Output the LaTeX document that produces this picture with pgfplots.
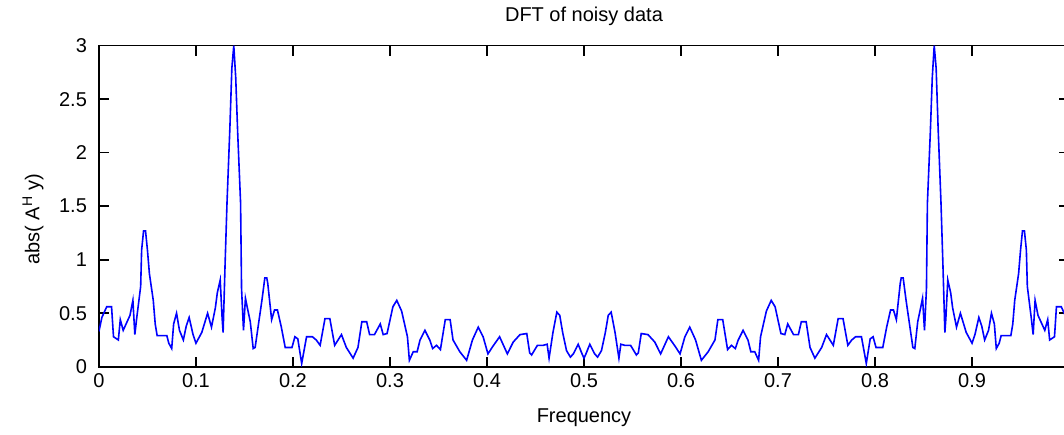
\documentclass[border=0pt]{standalone}
\usepackage{fontspec}
\setmainfont{Liberation Sans}
\usepackage{pgfplots}
\pgfplotsset{compat=1.18}
\begin{document}
\begin{tikzpicture}
\begin{axis}[
  scale only axis, width=485pt, height=160.5pt,
  xmin=0, xmax=1, ymin=0, ymax=3,
  xtick={0,0.1,0.2,0.3,0.4,0.5,0.6,0.7,0.8,0.9},
  ytick={0,0.5,1,1.5,2,2.5,3},
  tick align=inside, major tick length=5pt,
  axis line style={line width=0.8pt},
  every tick/.style={black, line width=0.8pt},
  font=\fontsize{10}{12}\selectfont,
  /pgf/number format/assume math mode=true,
  yticklabel style={xshift=-2.5pt},
  title={DFT of noisy data},
  title style={anchor=base, at={(axis description cs:0.5,1)}, yshift=6.3pt},
  xlabel={Frequency},
  xlabel style={anchor=base, at={(axis description cs:0.5,0)}, yshift=-27.7pt},
  ylabel={abs( A$^{\mathrm{H}}$ y)},
  ylabel style={at={(axis description cs:-0.068,0.46)}, anchor=center},
]
\addplot[blue, line width=0.8pt, mark=none] coordinates {
(0.000,0.33) (0.003,0.46) (0.008,0.56) (0.013,0.56) (0.015,0.28) (0.020,0.25)
(0.022,0.44) (0.025,0.34) (0.029,0.42) (0.032,0.48) (0.035,0.62) (0.037,0.30)
(0.039,0.46) (0.043,0.75) (0.044,1.09) (0.046,1.27) (0.048,1.27) (0.049,1.18)
(0.050,1.09) (0.052,0.87) (0.056,0.62) (0.058,0.40) (0.060,0.29) (0.070,0.29)
(0.072,0.22) (0.075,0.17) (0.077,0.40) (0.080,0.50) (0.083,0.34) (0.087,0.25)
(0.090,0.38) (0.093,0.46) (0.097,0.30) (0.100,0.22) (0.106,0.32) (0.112,0.50)
(0.116,0.37) (0.120,0.55) (0.122,0.69) (0.125,0.81) (0.127,0.45) (0.128,0.32)
(0.130,0.95) (0.132,1.53) (0.135,2.24) (0.137,2.79) (0.139,3.00) (0.141,2.70)
(0.143,2.19) (0.146,1.53) (0.147,0.73) (0.149,0.34) (0.151,0.64) (0.153,0.55)
(0.156,0.42) (0.159,0.17) (0.161,0.18) (0.164,0.37) (0.168,0.62) (0.171,0.83)
(0.173,0.83) (0.174,0.78) (0.178,0.44) (0.181,0.53) (0.184,0.53) (0.188,0.37)
(0.192,0.18) (0.199,0.18) (0.202,0.28) (0.205,0.26) (0.209,0.03) (0.214,0.28)
(0.220,0.28) (0.224,0.25) (0.228,0.20) (0.233,0.45) (0.238,0.45) (0.243,0.20)
(0.250,0.30) (0.255,0.18) (0.262,0.08) (0.267,0.18) (0.271,0.42) (0.276,0.42)
(0.279,0.30) (0.284,0.30) (0.290,0.40) (0.293,0.30) (0.297,0.31) (0.303,0.56)
(0.307,0.62) (0.312,0.52) (0.318,0.28) (0.320,0.06) (0.324,0.14) (0.328,0.14)
(0.331,0.25) (0.336,0.34) (0.341,0.25) (0.344,0.17) (0.348,0.20) (0.352,0.16)
(0.357,0.44) (0.362,0.44) (0.365,0.25) (0.372,0.14) (0.379,0.06) (0.385,0.25)
(0.391,0.37) (0.396,0.28) (0.401,0.12) (0.406,0.19) (0.413,0.28) (0.421,0.12)
(0.427,0.23) (0.434,0.30) (0.441,0.31) (0.444,0.13) (0.446,0.11) (0.452,0.20)
(0.458,0.20) (0.462,0.21) (0.464,0.08) (0.468,0.32) (0.472,0.51) (0.475,0.48)
(0.478,0.32) (0.482,0.15) (0.486,0.09) (0.489,0.12) (0.494,0.21) (0.498,0.12)
(0.500,0.08)
(0.502,0.12) (0.506,0.21) (0.511,0.12) (0.514,0.09) (0.518,0.15) (0.522,0.32)
(0.525,0.48) (0.528,0.51) (0.532,0.32) (0.536,0.08) (0.538,0.21) (0.542,0.20)
(0.548,0.20) (0.554,0.11) (0.556,0.13) (0.559,0.31) (0.566,0.30) (0.573,0.23)
(0.579,0.12) (0.587,0.28) (0.594,0.19) (0.599,0.12) (0.604,0.28) (0.609,0.37)
(0.615,0.25) (0.621,0.06) (0.628,0.14) (0.635,0.25) (0.638,0.44) (0.643,0.44)
(0.648,0.16) (0.652,0.20) (0.656,0.17) (0.659,0.25) (0.664,0.34) (0.669,0.25)
(0.672,0.14) (0.676,0.14) (0.680,0.06) (0.682,0.28) (0.688,0.52) (0.693,0.62)
(0.697,0.56) (0.703,0.31) (0.707,0.30) (0.710,0.40) (0.716,0.30) (0.721,0.30)
(0.724,0.42) (0.729,0.42) (0.733,0.18) (0.738,0.08) (0.745,0.18) (0.750,0.30)
(0.757,0.20) (0.762,0.45) (0.767,0.45) (0.772,0.20) (0.776,0.25) (0.780,0.28)
(0.786,0.28) (0.791,0.03) (0.795,0.26) (0.798,0.28) (0.801,0.18) (0.808,0.18)
(0.812,0.37) (0.816,0.53) (0.819,0.53) (0.822,0.44) (0.826,0.78) (0.827,0.83)
(0.829,0.83) (0.832,0.62) (0.836,0.37) (0.839,0.18) (0.841,0.17) (0.844,0.42)
(0.847,0.55) (0.849,0.64) (0.851,0.34) (0.853,0.73) (0.854,1.53) (0.857,2.19)
(0.859,2.70) (0.861,3.00) (0.863,2.79) (0.865,2.24) (0.868,1.53) (0.870,0.95)
(0.872,0.32) (0.873,0.45) (0.875,0.81) (0.878,0.69) (0.880,0.55) (0.884,0.37)
(0.888,0.50) (0.894,0.32) (0.900,0.22) (0.903,0.30) (0.907,0.46) (0.910,0.38)
(0.913,0.25) (0.917,0.34) (0.920,0.50) (0.923,0.40) (0.925,0.17) (0.928,0.22)
(0.930,0.29) (0.940,0.29) (0.942,0.40) (0.944,0.62) (0.948,0.87) (0.950,1.09)
(0.951,1.18) (0.952,1.27) (0.954,1.27) (0.956,1.09) (0.957,0.75) (0.961,0.46)
(0.963,0.30) (0.965,0.62) (0.968,0.48) (0.971,0.42) (0.975,0.34) (0.978,0.44)
(0.980,0.25) (0.985,0.28) (0.987,0.56) (0.992,0.56) (0.997,0.46) (1.000,0.33)
};
\coordinate (bl) at (axis cs:-0.102,-0.638);
\coordinate (tr) at (axis cs:0.9948,3.427);
\end{axis}
\pgfresetboundingbox
\useasboundingbox (bl) rectangle (tr);
\end{tikzpicture}
\end{document}
